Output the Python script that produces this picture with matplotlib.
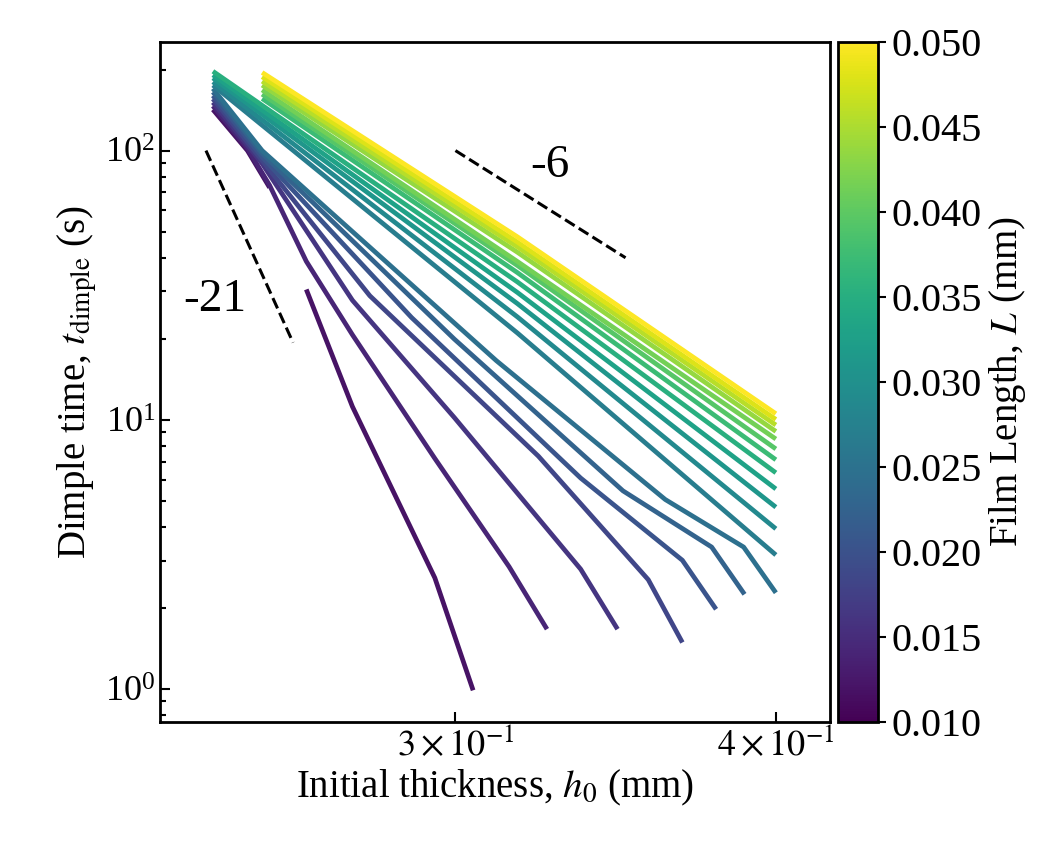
import numpy as np
import matplotlib
matplotlib.use('Agg')
import matplotlib.pyplot as plt
from matplotlib.ticker import FixedLocator, NullFormatter, NullLocator

plt.rcParams['font.family'] = ['Liberation Serif', 'DejaVu Serif']
plt.rcParams['mathtext.fontset'] = 'stix'

# film lengths (mm), one curve each
film_L = np.linspace(0.012, 0.050, 19)

# curves: (h0 list, t_dimple list)
curve_h = [
    [0.2413, 0.2489, 0.2539, np.nan, 0.2624, 0.2735, 0.2945, 0.3048],
    [0.2413, 0.2489, 0.2539, 0.2624, 0.2735, 0.2945, 0.3148, 0.3257],
    [0.2413, 0.2522, 0.2735, 0.2997, 0.3357, 0.3470],
    [0.2413, 0.2522, 0.2778, 0.3232, 0.3567, 0.3678],
    [0.2413, 0.2522, 0.2884, 0.3357, 0.3678, 0.3791],
    [0.2413, 0.2522, 0.2997, 0.3487, 0.3776, 0.3889],
    [0.2413, 0.2522, 0.3112, 0.3622, 0.3886, 0.4000],
]
curve_t = [
    [142, 100, 72.9, np.nan, 30.5, 11.2, 2.59, 0.99],
    [146.5, 101.9, 74.3, 38.8, 20.7, 7.19, 2.85, 1.67],
    [151, 89.5, 27.8, 10.2, 2.79, 1.67],
    [155.6, 91.8, 28.9, 7.33, 2.55, 1.49],
    [160, 94.6, 24.0, 6.08, 3.01, 1.98],
    [165, 97.5, 19.95, 5.45, 3.37, 2.25],
    [170, 100, 16.6, 5.06, 3.37, 2.28],
]
# longer films: start, middle (h0 = 0.3172) and end (h0 = 0.40)
start_h = [0.2413] * 5 + [0.2522] * 7
start_t = [175, 180, 186, 191, 197, 156, 162, 168, 175, 181, 188, 195]
mid_t = [21.0, 24.1, 27.0, 29.7, 32.5, 35.2, 37.4, 38.7, 41.9, 43.9, 45.7, 47.8]
end_t = [3.15, 3.94, 4.74, 5.54, 6.36, 7.11, 7.80, 8.49, 9.06, 9.57, 10.04, 10.54]
for h0, t0, tm, te in zip(start_h, start_t, mid_t, end_t):
    curve_h.append([h0, 0.3172, 0.400])
    curve_t.append([t0, tm, te])

fig = plt.figure(figsize=(10.63, 8.58), dpi=100)
ax = fig.add_axes([0.1505, 0.1585, 0.6305, 0.7925])
cax = fig.add_axes([0.788, 0.1585, 0.038, 0.7925])

cmap = plt.get_cmap('viridis')
norm = matplotlib.colors.Normalize(vmin=0.010, vmax=0.050)
for L, h, t in zip(film_L, curve_h, curve_t):
    ax.plot(h, t, color=cmap(norm(L)), lw=3.4, solid_capstyle='butt')

# scaling guides
h21 = np.array([0.2398, 0.2593])
ax.plot(h21, 100 * (h21 / h21[0]) ** -21, 'k--', lw=2.2)
h6 = np.array([0.300, 0.3495])
ax.plot(h6, 100 * (h6 / h6[0]) ** -6, 'k--', lw=2.2)
ax.text(0.2418, 28.0, '-21', fontsize=34, ha='center', va='center')
ax.text(0.3264, 87.9, '-6', fontsize=34, ha='center', va='center')

ax.set_xscale('log')
ax.set_yscale('log')
ax.set_xlim(0.2301, 0.420)
ax.set_ylim(0.755, 253)
ax.xaxis.set_major_locator(FixedLocator([0.3, 0.4]))
ax.xaxis.set_minor_locator(NullLocator())
ax.set_xticklabels([r'$3\times10^{-1}$', r'$4\times10^{-1}$'])
ax.xaxis.set_minor_formatter(NullFormatter())
ax.tick_params(which='both', direction='in', labelsize=26, width=1.5)
ax.tick_params(which='major', length=7)
ax.tick_params(which='minor', length=4)
for s in ax.spines.values():
    s.set_linewidth(2)
ax.set_xlabel(r'Initial thickness, $h_0$ (mm)', fontsize=28)
ax.set_ylabel(r'Dimple time, $t_{\mathrm{dimple}}$ (s)', fontsize=28)

sm = matplotlib.cm.ScalarMappable(norm=norm, cmap=cmap)
cb = fig.colorbar(sm, cax=cax, ticks=np.arange(0.010, 0.0501, 0.005))
cb.ax.set_yticklabels(['%.3f' % v for v in np.arange(0.010, 0.0501, 0.005)])
cb.ax.tick_params(labelsize=29, direction='out', length=6, width=1.5)
cb.outline.set_linewidth(2)
cb.set_label(r'Film Length, $L$ (mm)', fontsize=28)

fig.savefig('out.png', dpi=100)
